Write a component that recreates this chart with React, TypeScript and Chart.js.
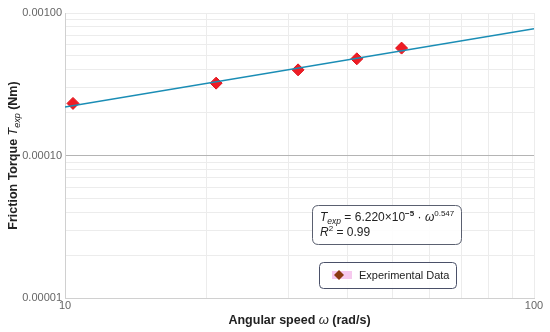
import React, { useEffect, useRef } from "react";
import { Chart, registerables } from "chart.js";

Chart.register(...registerables);

const omegaData = [10.4, 21.0, 31.4, 41.9, 52.2];
const torqueData = [2.32e-4, 3.22e-4, 3.99e-4, 4.77e-4, 5.67e-4];
const fitOmega = [10, 100];
const fitTorque = [2.19e-4, 7.75e-4];
const xTicks = [10, 20, 30, 40, 50, 60, 70, 80, 90, 100];
const yTicks = [
  1e-5, 2e-5, 3e-5, 4e-5, 5e-5, 6e-5, 7e-5, 8e-5, 9e-5,
  1e-4, 2e-4, 3e-4, 4e-4, 5e-4, 6e-4, 7e-4, 8e-4, 9e-4, 1e-3,
];
const xLabels: Record<number, string> = { 10: "10", 100: "100" };
const yLabels: Record<string, string> = { "0.00001": "0.00001", "0.0001": "0.00010", "0.001": "0.00100" };
const legendLabel = "Experimental Data";

const FONT = "'Liberation Sans', Arial, sans-serif";

type Run = { t: string; f: string; dy?: number };

function runsWidth(ctx: CanvasRenderingContext2D, runs: Run[]) {
  let w = 0;
  for (const r of runs) {
    ctx.font = r.f;
    w += ctx.measureText(r.t).width;
  }
  return w;
}
function drawRuns(ctx: CanvasRenderingContext2D, runs: Run[], x: number, y: number) {
  let cx = x;
  for (const r of runs) {
    ctx.font = r.f;
    ctx.fillText(r.t, cx, y + (r.dy || 0));
    cx += ctx.measureText(r.t).width;
  }
}
function roundRect(ctx: CanvasRenderingContext2D, x: number, y: number, w: number, h: number, r: number) {
  ctx.beginPath();
  ctx.moveTo(x + r, y);
  ctx.lineTo(x + w - r, y);
  ctx.quadraticCurveTo(x + w, y, x + w, y + r);
  ctx.lineTo(x + w, y + h - r);
  ctx.quadraticCurveTo(x + w, y + h, x + w - r, y + h);
  ctx.lineTo(x + r, y + h);
  ctx.quadraticCurveTo(x, y + h, x, y + h - r);
  ctx.lineTo(x, y + r);
  ctx.quadraticCurveTo(x, y, x + r, y);
  ctx.closePath();
}

const overlay = {
  id: "overlay",
  afterDraw(chart: any) {
    const ctx: CanvasRenderingContext2D = chart.ctx;
    const a = chart.chartArea;
    ctx.save();
    ctx.fillStyle = "#222";
    ctx.textBaseline = "alphabetic";
    // x title
    const bold = `bold 12.5px ${FONT}`;
    const xRuns: Run[] = [
      { t: "Angular speed ", f: bold },
      { t: "ω", f: `italic 13px ${FONT}` },
      { t: " (rad/s)", f: bold },
    ];
    const xw = runsWidth(ctx, xRuns);
    drawRuns(ctx, xRuns, (a.left + a.right) / 2 - xw / 2, 324);
    // y title
    const yRuns: Run[] = [
      { t: "Friction Torque ", f: bold },
      { t: "T", f: `italic 12.5px ${FONT}` },
      { t: "exp", f: `italic 9px ${FONT}`, dy: 3 },
      { t: " (Nm)", f: bold },
    ];
    const yw = runsWidth(ctx, yRuns);
    ctx.save();
    ctx.translate(17, (a.top + a.bottom) / 2);
    ctx.rotate(-Math.PI / 2);
    drawRuns(ctx, yRuns, -yw / 2, 0);
    ctx.restore();

    // annotation box
    ctx.fillStyle = "rgba(255,255,255,0.9)";
    roundRect(ctx, 312.5, 205.5, 149, 39, 6);
    ctx.fill();
    ctx.strokeStyle = "#5a6070";
    ctx.lineWidth = 1;
    ctx.stroke();
    ctx.fillStyle = "#222";
    const reg = `12px ${FONT}`;
    const it = `italic 12px ${FONT}`;
    const sm = `8px ${FONT}`;
    const eq: Run[] = [
      { t: "T", f: it },
      { t: "exp", f: `italic 8.5px ${FONT}`, dy: 3 },
      { t: " = 6.220×10", f: reg },
      { t: "−5", f: `bold 8px ${FONT}`, dy: -5 },
      { t: " · ", f: reg },
      { t: "ω", f: it },
      { t: "0.547", f: sm, dy: -5 },
    ];
    drawRuns(ctx, eq, 320, 221);
    const r2: Run[] = [
      { t: "R", f: it },
      { t: "2", f: sm, dy: -5 },
      { t: " = 0.99", f: reg },
    ];
    drawRuns(ctx, r2, 320, 236);

    // legend box
    ctx.fillStyle = "rgba(255,255,255,0.9)";
    roundRect(ctx, 319.5, 262.5, 137, 26, 4);
    ctx.fill();
    ctx.strokeStyle = "#4a5068";
    ctx.stroke();
    ctx.fillStyle = "#f6c9ee";
    ctx.fillRect(332, 271, 20, 8);
    ctx.fillStyle = "#8a3a10";
    ctx.beginPath();
    const cx = 339, cy = 275, s = 5;
    ctx.moveTo(cx, cy - s);
    ctx.lineTo(cx + s, cy);
    ctx.lineTo(cx, cy + s);
    ctx.lineTo(cx - s, cy);
    ctx.closePath();
    ctx.fill();
    ctx.fillStyle = "#222";
    ctx.font = `11px ${FONT}`;
    ctx.textBaseline = "middle";
    ctx.fillText(legendLabel, 359, 276);
    ctx.restore();
  },
};

export default function App() {
  const ref = useRef<HTMLCanvasElement>(null);
  useEffect(() => {
    document.body.style.margin = "0";
    const chart = new Chart(ref.current!, {
      type: "scatter",
      data: {
        datasets: [
          {
            type: "line",
            data: fitOmega.map((x, i) => ({ x, y: fitTorque[i] })),
            borderColor: "#1a8db5",
            borderWidth: 1.6,
            pointRadius: 0,
            fill: false,
          } as any,
          {
            data: omegaData.map((x, i) => ({ x, y: torqueData[i] })),
            pointStyle: "rectRot",
            pointRadius: 6,
            backgroundColor: "#ee1c24",
            borderColor: "#e0141c",
            borderWidth: 1,
          },
        ],
      },
      options: {
        animation: false,
        responsive: false,
        layout: { padding: { top: 13, right: 16, left: 0, bottom: 0 } },
        plugins: { legend: { display: false }, tooltip: { enabled: false } },
        scales: {
          x: {
            type: "logarithmic",
            min: 10,
            max: 100,
            afterBuildTicks: (s: any) => {
              s.ticks = xTicks.map((v) => ({ value: v }));
            },
            afterFit: (s: any) => {
              s.height = 34;
            },
            ticks: {
              autoSkip: false,
              maxRotation: 0,
              padding: 1,
              color: "#666",
              font: { family: FONT, size: 11 },
              callback: (v: any) => xLabels[Number(v)] ?? "",
            },
            grid: {
              color: "#ececec",
              drawTicks: false,
              lineWidth: 1,
            },
            border: { color: "#d0d0d0" },
          },
          y: {
            type: "logarithmic",
            min: 1e-5,
            max: 1e-3,
            afterBuildTicks: (s: any) => {
              s.ticks = yTicks.map((v) => ({ value: v }));
            },
            afterFit: (s: any) => {
              s.width = 65;
            },
            ticks: {
              autoSkip: false,
              padding: 3,
              color: "#666",
              font: { family: FONT, size: 11 },
              callback: (v: any) => yLabels[String(Number(v))] ?? "",
            },
            grid: {
              color: (c: any) => (c.tick && Math.abs(c.tick.value - 1e-4) < 1e-9 ? "#b4b4b4" : "#ececec"),
              drawTicks: false,
            },
            border: { color: "#d0d0d0" },
          },
        },
      },
      plugins: [overlay],
    } as any);
    return () => chart.destroy();
  }, []);
  return <canvas ref={ref} width={550} height={332} style={{ display: "block" }} />;
}
